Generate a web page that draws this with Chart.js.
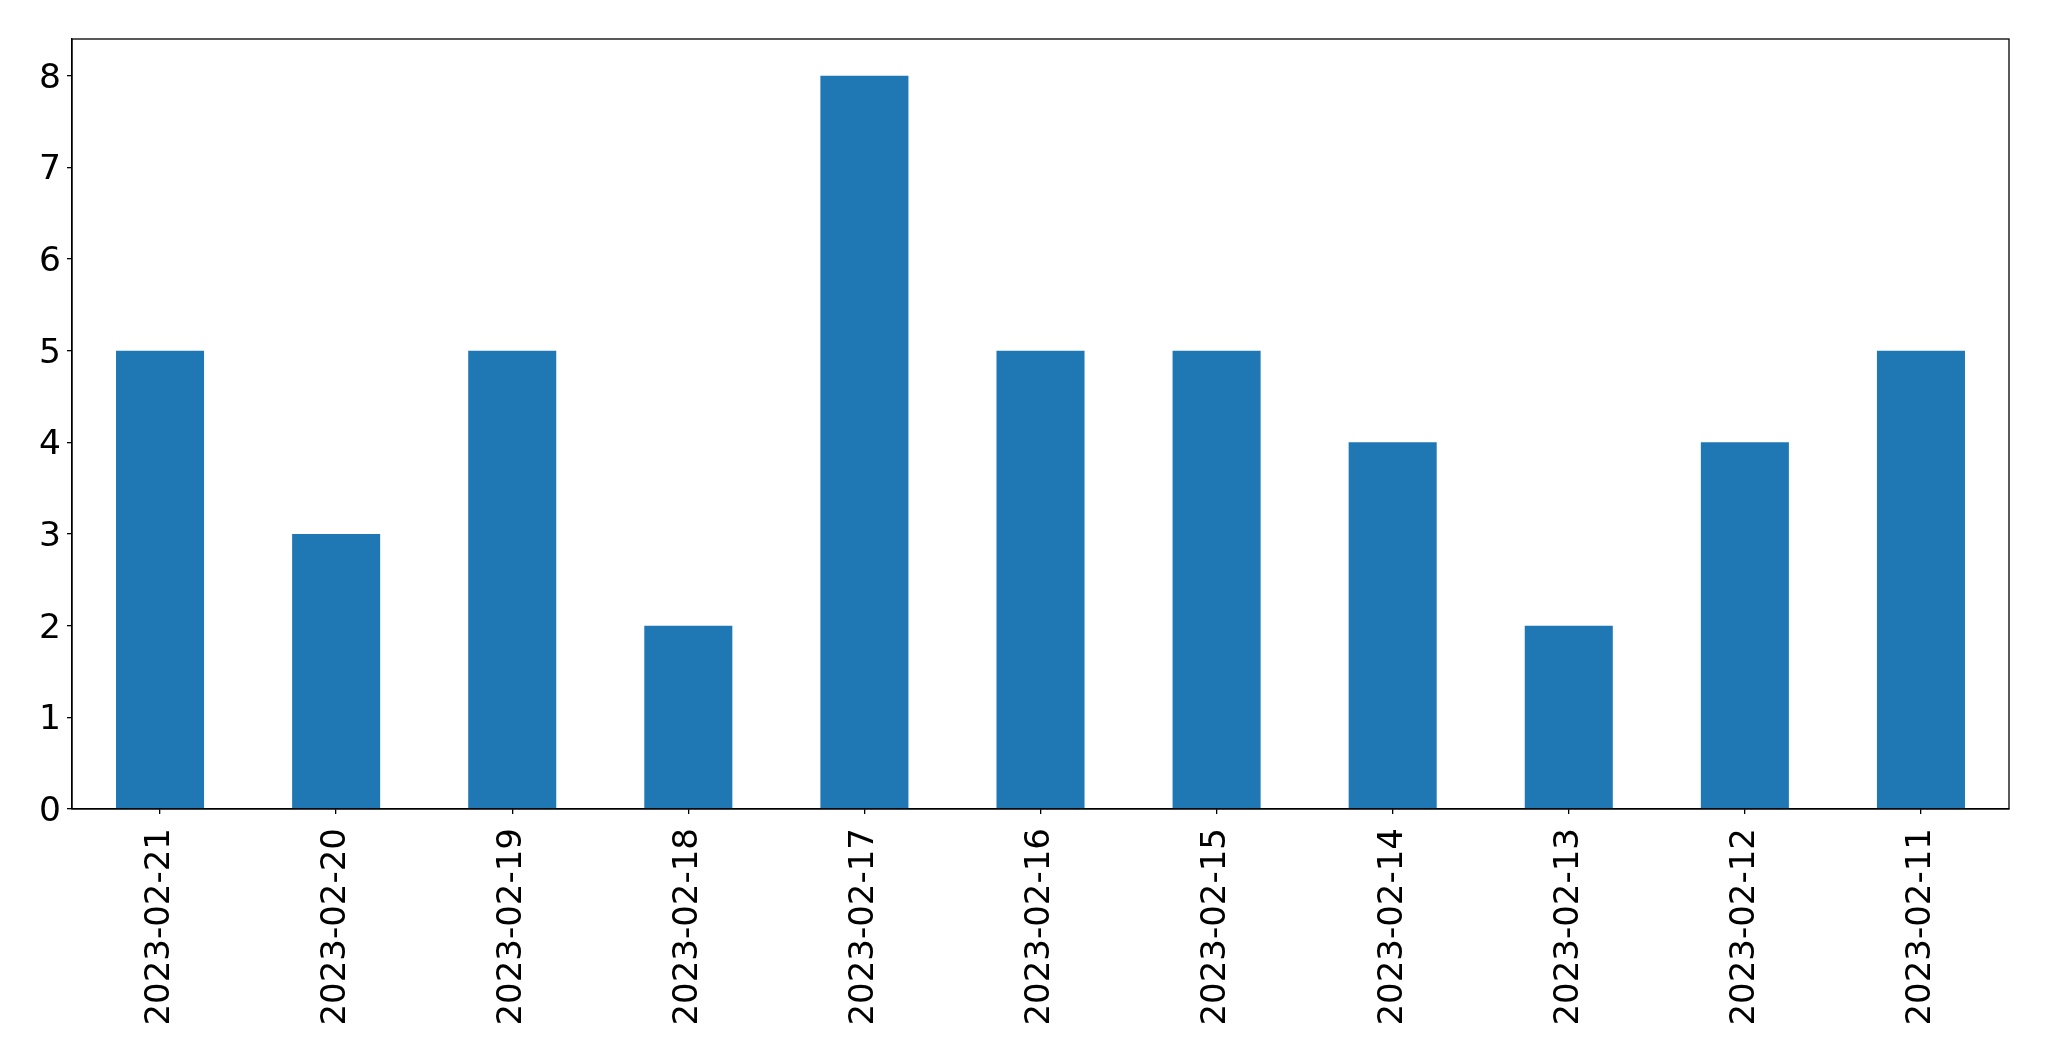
<!DOCTYPE html>
<html>
<head>
<meta charset="utf-8">
<script src="https://cdn.jsdelivr.net/npm/chart.js@4/dist/chart.umd.min.js"></script>
<style>
html,body{margin:0;padding:0;background:#fff;}
canvas{display:block;}
</style>
</head>
<body>
<canvas id="c" width="2049" height="1061"></canvas>
<script>
const categories = ["2023-02-21","2023-02-20","2023-02-19","2023-02-18","2023-02-17","2023-02-16","2023-02-15","2023-02-14","2023-02-13","2023-02-12","2023-02-11"];
const values = [5,3,5,2,8,5,5,4,2,4,5];
const yTicks = [0,1,2,3,4,5,6,7,8];

const frame = {
  id: 'frame',
  afterDraw(chart) {
    const a = chart.chartArea, ctx = chart.ctx;
    ctx.save();
    ctx.strokeStyle = '#000';
    ctx.lineWidth = 1.3;
    ctx.strokeRect(a.left, a.top, a.right - a.left, a.bottom - a.top);
    ctx.restore();
  }
};

new Chart(document.getElementById('c'), {
  type: 'bar',
  data: {
    labels: categories,
    datasets: [{
      data: values,
      backgroundColor: '#1f77b4',
      borderWidth: 0,
      barPercentage: 0.5,
      categoryPercentage: 1.0
    }]
  },
  options: {
    responsive: false,
    animation: false,
    devicePixelRatio: 1,
    layout: { padding: { top: 39, right: 40, left: 0, bottom: 0 } },
    plugins: { legend: { display: false }, tooltip: { enabled: false } },
    scales: {
      x: {
        offset: true,
        grid: { display: true, drawOnChartArea: false, drawTicks: true, tickLength: 5, color: '#000', lineWidth: 1.3, offset: false },
        border: { display: true, color: '#000', width: 1.3 },
        ticks: { color: '#000', font: { family: 'DejaVu Sans', size: 34 }, minRotation: 90, maxRotation: 90, padding: 14, autoSkip: false },
        afterFit(s) { s.height = 1061 - 809; }
      },
      y: {
        min: 0,
        max: 8.4,
        grid: { display: true, drawOnChartArea: false, drawTicks: true, tickLength: 5, color: '#000', lineWidth: 1.3 },
        border: { display: true, color: '#000', width: 1.3 },
        ticks: { color: '#000', font: { family: 'DejaVu Sans', size: 34.5 }, stepSize: 1, padding: 6, labelOffset: 3 },
        afterBuildTicks(s) { s.ticks = yTicks.map(v => ({ value: v })); },
        afterFit(s) { s.width = 72; }
      }
    }
  },
  plugins: [frame]
});
</script>
</body>
</html>
